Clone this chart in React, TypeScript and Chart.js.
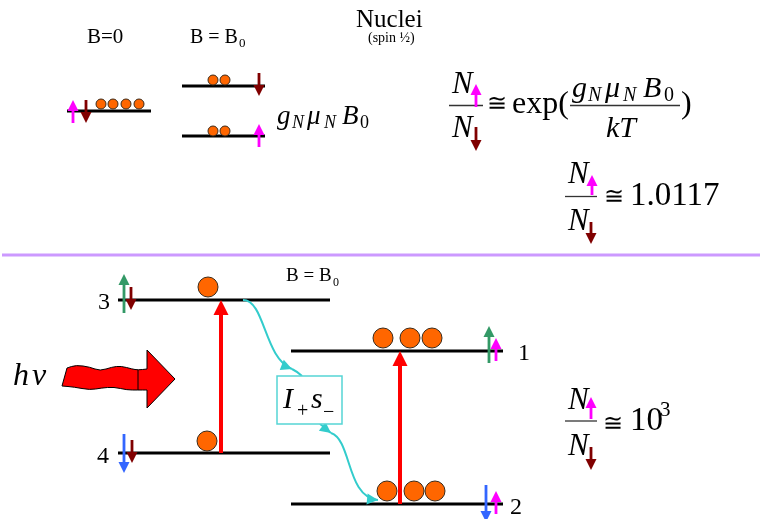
import React, { useEffect, useRef } from 'react';
import { Chart, registerables } from 'chart.js';

Chart.register(...registerables);

const W = 760;
const H = 519;

// energy levels: [x start, x end, y]
const topLevels: number[][] = [[67, 151, 111], [182, 265, 86], [182, 265, 136]];
const bottomLevels: number[][] = [[118, 330, 300], [118, 330, 453], [291, 503, 351], [291, 503, 504]];
const dividerLine: number[][] = [[2, 760, 255]];
// fraction bars: [x start, x end, y]
const fractionBars: number[][] = [[449, 483, 105.5], [570, 680, 105.5], [565, 597, 196.5], [565, 597, 421]];

// populations [x, y]
const smallDots: number[][] = [[101, 104], [113, 104], [126, 104], [139, 104], [213, 80], [225, 80], [213, 131], [225, 131]];
const bigDots: number[][] = [[208, 287], [207, 441], [383, 338], [410, 338], [432, 338], [387, 491], [414, 491], [435, 491]];

// spin arrows: [x, tail y, tip y, kind]  m=magenta d=dark red g=green b=blue
const spinArrows: (number | string)[][] = [
  [73, 123, 100, 'm'], [86, 100, 123, 'd'], [259, 73, 96, 'd'], [259, 147, 124, 'm'],
  [476, 107, 84, 'm'], [476, 127, 151, 'd'],
  [592, 195, 175, 'm'], [591, 222, 244, 'd'],
  [591, 419, 397, 'm'], [591, 447, 470, 'd'],
  [124, 313, 274, 'g'], [131, 287, 310, 'd'],
  [124, 434, 473, 'b'], [132, 440, 463, 'd'],
  [489, 363, 326, 'g'], [496, 361, 338, 'm'],
  [486, 485, 522, 'b'], [496, 514, 491, 'm'],
];

// optical transitions: [x, from y, to y]
const transitions: number[][] = [[221, 453, 300], [400, 504, 351]];

// photon wavy arrow outline
const waveTop: number[][] = [[67, 368], [76, 365], [90, 367], [100, 371], [112, 367], [121, 366], [132, 369], [138, 370], [147, 369]];
const waveBottom: number[][] = [[147, 390], [138, 390], [127, 390], [114, 387], [101, 388], [90, 390], [74, 387], [62, 386]];
const waveHead: number[][] = [[147, 350], [175, 379], [147, 408]];

// flip-flop curves (cubic): [x0,y0, c1x,c1y, c2x,c2y, x3,y3]
const flipCurves: number[][] = [
  [243, 300, 265, 300, 264, 358, 292, 369],
  [292, 369, 296, 371, 299, 373, 302, 376],
  [320, 424, 324, 427, 327, 430, 331, 433],
  [331, 433, 352, 440, 346, 497, 378, 500],
];
const curveArrowFlags: number[] = [1, 0, 1, 1];
const operatorBox: number[][] = [[277, 376, 342, 424]];

// texts: [string, x, baseline y, font key]
const texts: (string | number)[][] = [
  ['B=0', 87, 43, 'r21'],
  ['B = B', 190, 43, 'r20'], ['0', 239, 47, 'r13'],
  ['Nuclei', 356, 27, 'r25'],
  ['(spin ½)', 368, 42, 'r14'],
  ['g', 277, 124, 'i27'], ['N', 292, 128, 'i18'], ['μ', 307, 124, 'i27'], ['N', 324, 128, 'i18'], ['B', 342, 124, 'i27'], ['0', 360, 128, 'r18'],
  ['N', 452, 93, 'i31'], ['N', 452, 137, 'i31'], ['≅', 487, 111, 'm24'], ['exp(', 512, 113, 'r32'],
  ['g', 572, 97, 'i30'], ['N', 588, 101, 'i20'], ['μ', 605, 97, 'i30'], ['N', 623, 101, 'i20'], ['B', 643, 97, 'i30'], ['0', 664, 101, 'r20'],
  ['kT', 606, 137, 'i30'], [')', 681, 113, 'r32'],
  ['N', 568, 183, 'i31'], ['N', 568, 230, 'i31'], ['≅', 604, 204, 'm24'], ['1.0117', 630, 205, 'r33'],
  ['N', 568, 409, 'i31'], ['N', 568, 455, 'i31'], ['≅', 603, 431, 'm24'], ['10', 630, 430, 'r33'], ['3', 660, 416, 'r21'],
  ['B = B', 286, 281, 'r19'], ['0', 333, 286, 'r12'],
  ['3', 98, 309, 'r24'], ['4', 97, 463, 'r24'], ['1', 518, 360, 'r24'], ['2', 510, 514, 'r24'],
  ['h', 13, 385, 'i32'], ['ν', 32, 385, 'i32'],
  ['I', 283, 408, 'i30'], ['+', 297, 417, 'r20'], ['s', 311, 408, 'i30'], ['−', 323, 418, 'r20'],
];

const SERIF = "'Liberation Serif', 'Times New Roman', serif";
const MATH = "'DejaVu Serif', serif";
const COLORS: Record<string, string> = { m: '#ff00ff', d: '#800000', g: '#339966', b: '#3366ff' };

function fontFor(key: string) {
  const size = parseInt(key.slice(1), 10);
  if (key[0] === 'i') return `italic ${size}px ${SERIF}`;
  if (key[0] === 'm') return `${size}px ${MATH}`;
  return `${size}px ${SERIF}`;
}

function drawArrow(ctx: CanvasRenderingContext2D, x: number, y0: number, y1: number, color: string, shaft: number, headW: number, headL: number) {
  const dir = y1 > y0 ? 1 : -1;
  const base = y1 - dir * headL;
  ctx.save();
  ctx.strokeStyle = color;
  ctx.fillStyle = color;
  ctx.lineWidth = shaft;
  ctx.lineCap = 'butt';
  ctx.beginPath();
  ctx.moveTo(x, y0);
  ctx.lineTo(x, base + dir * 1);
  ctx.stroke();
  ctx.beginPath();
  ctx.moveTo(x - headW / 2, base);
  ctx.lineTo(x + headW / 2, base);
  ctx.lineTo(x, y1);
  ctx.closePath();
  ctx.fill();
  ctx.restore();
}

function arrowHead(ctx: CanvasRenderingContext2D, tx: number, ty: number, fx: number, fy: number, len: number, half: number) {
  const a = Math.atan2(ty - fy, tx - fx);
  const bx = tx - Math.cos(a) * len;
  const by = ty - Math.sin(a) * len;
  ctx.beginPath();
  ctx.moveTo(tx, ty);
  ctx.lineTo(bx + Math.sin(a) * half, by - Math.cos(a) * half);
  ctx.lineTo(bx - Math.sin(a) * half, by + Math.cos(a) * half);
  ctx.closePath();
  ctx.fill();
}

const diagramPlugin = {
  id: 'diagram',
  afterDatasetsDraw(chart: any) {
    const ctx: CanvasRenderingContext2D = chart.ctx;
    const sx = (v: number) => chart.scales.x.getPixelForValue(v);
    const sy = (v: number) => chart.scales.y.getPixelForValue(v);

    ctx.save();
    ctx.strokeStyle = '#333';
    ctx.lineWidth = 1.3;
    fractionBars.forEach(([a, b, y]) => {
      ctx.beginPath();
      ctx.moveTo(sx(a), sy(y));
      ctx.lineTo(sx(b), sy(y));
      ctx.stroke();
    });
    ctx.restore();

    transitions.forEach(([x, a, b]) => drawArrow(ctx, sx(x), sy(a), sy(b), '#ff0000', 4, 15, 15));

    spinArrows.forEach(([x, a, b, k]) => drawArrow(ctx, sx(x as number), sy(a as number), sy(b as number), COLORS[k as string], 2.8, 11, 11));

    // wavy photon arrow
    ctx.save();
    ctx.fillStyle = '#ff0000';
    ctx.strokeStyle = '#000';
    ctx.lineWidth = 1;
    ctx.beginPath();
    const smooth = (pts: number[][], first: boolean) => {
      pts.forEach((p, i) => {
        const X = sx(p[0]);
        const Y = sy(p[1]);
        if (i === 0) {
          if (first) ctx.moveTo(X, Y); else ctx.lineTo(X, Y);
        } else {
          const q = pts[i - 1];
          const mx = (sx(q[0]) + X) / 2;
          const my = (sy(q[1]) + Y) / 2;
          ctx.quadraticCurveTo(sx(q[0]), sy(q[1]), mx, my);
          if (i === pts.length - 1) ctx.lineTo(X, Y);
        }
      });
    };
    smooth(waveTop, true);
    waveHead.forEach((p) => ctx.lineTo(sx(p[0]), sy(p[1])));
    smooth(waveBottom, false);
    ctx.closePath();
    ctx.fill();
    ctx.stroke();
    ctx.beginPath();
    ctx.moveTo(sx(waveBottom[1][0]), sy(waveTop[7][1]));
    ctx.lineTo(sx(waveBottom[1][0]), sy(waveBottom[1][1]));
    ctx.stroke();
    ctx.restore();

    // flip-flop curves
    ctx.save();
    ctx.strokeStyle = '#33cccc';
    ctx.fillStyle = '#33cccc';
    ctx.lineWidth = 2;
    flipCurves.forEach((c, i) => {
      ctx.beginPath();
      ctx.moveTo(sx(c[0]), sy(c[1]));
      ctx.bezierCurveTo(sx(c[2]), sy(c[3]), sx(c[4]), sy(c[5]), sx(c[6]), sy(c[7]));
      ctx.stroke();
      if (curveArrowFlags[i]) arrowHead(ctx, sx(c[6]), sy(c[7]), sx(c[4]), sy(c[5]), 11, 5.5);
    });
    ctx.restore();

    operatorBox.forEach(([x0, y0, x1, y1]) => {
      ctx.save();
      ctx.fillStyle = '#ffffff';
      ctx.strokeStyle = '#55d5d5';
      ctx.lineWidth = 1.5;
      ctx.fillRect(sx(x0), sy(y0), sx(x1) - sx(x0), sy(y1) - sy(y0));
      ctx.strokeRect(sx(x0), sy(y0), sx(x1) - sx(x0), sy(y1) - sy(y0));
      ctx.restore();
    });

    ctx.save();
    ctx.fillStyle = '#000';
    ctx.textBaseline = 'alphabetic';
    ctx.textAlign = 'left';
    texts.forEach(([s, x, y, f]) => {
      ctx.font = fontFor(f as string);
      ctx.fillText(s as string, sx(x as number), sy(y as number));
    });
    ctx.restore();
  },
};

export default function App() {
  const ref = useRef<HTMLCanvasElement | null>(null);
  useEffect(() => {
    if (!ref.current) return;
    const lineDs = (seg: number[], color: string, width: number) => ({
      type: 'line' as const,
      data: [{ x: seg[0], y: seg[2] }, { x: seg[1], y: seg[2] }],
      borderColor: color,
      borderWidth: width,
      borderCapStyle: 'butt' as const,
      pointRadius: 0,
      showLine: true,
      fill: false,
    });
    const datasets: any[] = [
      {
        type: 'scatter',
        data: bigDots.map(([x, y]) => ({ x, y })),
        pointRadius: 10,
        backgroundColor: '#ff6600',
        borderColor: '#3a2a1a',
        borderWidth: 1,
        pointHoverRadius: 10,
      },
      {
        type: 'scatter',
        data: smallDots.map(([x, y]) => ({ x, y })),
        pointRadius: 5,
        backgroundColor: '#ff6600',
        borderColor: '#3a2a1a',
        borderWidth: 1,
        pointHoverRadius: 5,
      },
      ...topLevels.map((s) => lineDs(s, '#000', 3)),
      ...bottomLevels.map((s) => lineDs(s, '#000', 3)),
      ...dividerLine.map((s) => lineDs(s, '#cc99ff', 3)),
    ];
    const chart = new Chart(ref.current, {
      type: 'scatter',
      data: { datasets },
      options: {
        responsive: false,
        animation: false,
        events: [],
        clip: false,
        layout: { padding: 0, autoPadding: false },
        plugins: { legend: { display: false }, tooltip: { enabled: false } },
        scales: {
          x: { type: 'linear', min: 0, max: W, display: false },
          y: { type: 'linear', min: 0, max: H, reverse: true, display: false },
        },
      },
      plugins: [diagramPlugin],
    } as any);
    return () => chart.destroy();
  }, []);
  return (
    <div style={{ position: 'fixed', left: 0, top: 0, width: W, height: H, background: '#fff' }}>
      <canvas ref={ref} width={W} height={H} style={{ display: 'block' }} />
    </div>
  );
}
